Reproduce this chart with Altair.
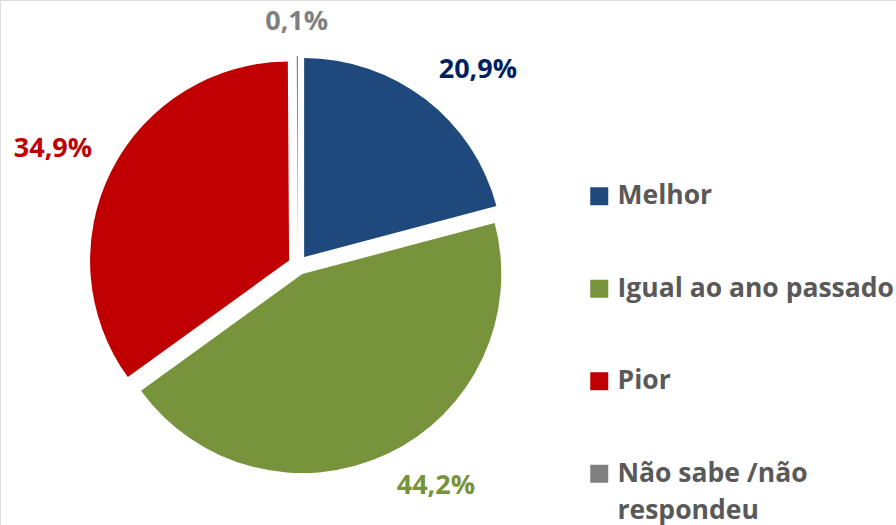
import altair as alt
import pandas as pd

categories = ["Melhor", "Igual ao ano passado", "Pior", "Não sabe /não respondeu"]
values = [20.9, 44.2, 34.9, 0.1]
labels = ["20,9%", "44,2%", "34,9%", "0,1%"]
slice_colors = ["#1F497D", "#77933C", "#C00000", "#808080"]
label_colors = ["#002060", "#77933C", "#C00000", "#808080"]

df = pd.DataFrame({
    "cat": categories,
    "value": values,
    "label": labels,
    "lcolor": label_colors,
    "order": list(range(len(categories))),
})

CX, CY, EXPLODE, R = 298, 265, 10, 199
LR, HW, HH = 231, 39, 12

base = alt.Chart(df).transform_window(
    cum="sum(value)", sort=[alt.SortField("order")], frame=[None, 0]
).transform_joinaggregate(
    total="sum(value)"
).transform_calculate(
    start="(datum.cum - datum.value) / datum.total * 2 * PI",
    end="datum.cum / datum.total * 2 * PI",
).transform_calculate(
    mid="(datum.start + datum.end) / 2",
).transform_calculate(
    px=f"{CX} + {EXPLODE} * sin(datum.mid)",
    py=f"{CY} - {EXPLODE} * cos(datum.mid)",
    lx=f"{CX} + {LR} * sin(datum.mid) + {HW} * clamp(5 * sin(datum.mid), -1, 1)",
    ly=f"{CY} - {LR} * cos(datum.mid) - {HH} * clamp(5 * cos(datum.mid), -1, 1)",
)

arcs = base.mark_arc(radius=R).encode(
    theta=alt.Theta("start:Q", scale=None, stack=None),
    theta2="end:Q",
    x=alt.X("px:Q", scale=None),
    y=alt.Y("py:Q", scale=None),
    color=alt.Color(
        "cat:N",
        scale=alt.Scale(domain=categories, range=slice_colors),
        legend=alt.Legend(
            title=None,
            orient="none",
            legendX=586,
            legendY=183,
            symbolType="square",
            symbolSize=324,
            symbolStrokeWidth=0,
            symbolOpacity=1,
            labelFont="Open Sans",
            labelFontWeight="bold",
            labelFontSize=26.5,
            labelColor="#595959",
            labelLimit=400,
            labelOffset=5,
            rowPadding=65.5,
            padding=0,
            labelExpr="datum.label == 'Não sabe /não respondeu' ? ['Não sabe /não', 'respondeu'] : datum.label",
        ),
    ),
    order=alt.Order("order:Q"),
)

texts = base.mark_text(font="Open Sans", fontWeight="bold", fontSize=27).encode(
    x=alt.X("lx:Q", scale=None),
    y=alt.Y("ly:Q", scale=None),
    text="label:N",
    color=alt.Color("lcolor:N", scale=None),
)

chart = alt.layer(arcs, texts).properties(
    width=896,
    height=525,
    autosize=alt.AutoSizeParams(type="none"),
    padding=0,
    background="white",
).configure_view(stroke=None).configure(
    style={"guide-label": {"lineHeight": 37}}
)

chart.save("out.html", embed_options={"renderer": "svg", "actions": False})
